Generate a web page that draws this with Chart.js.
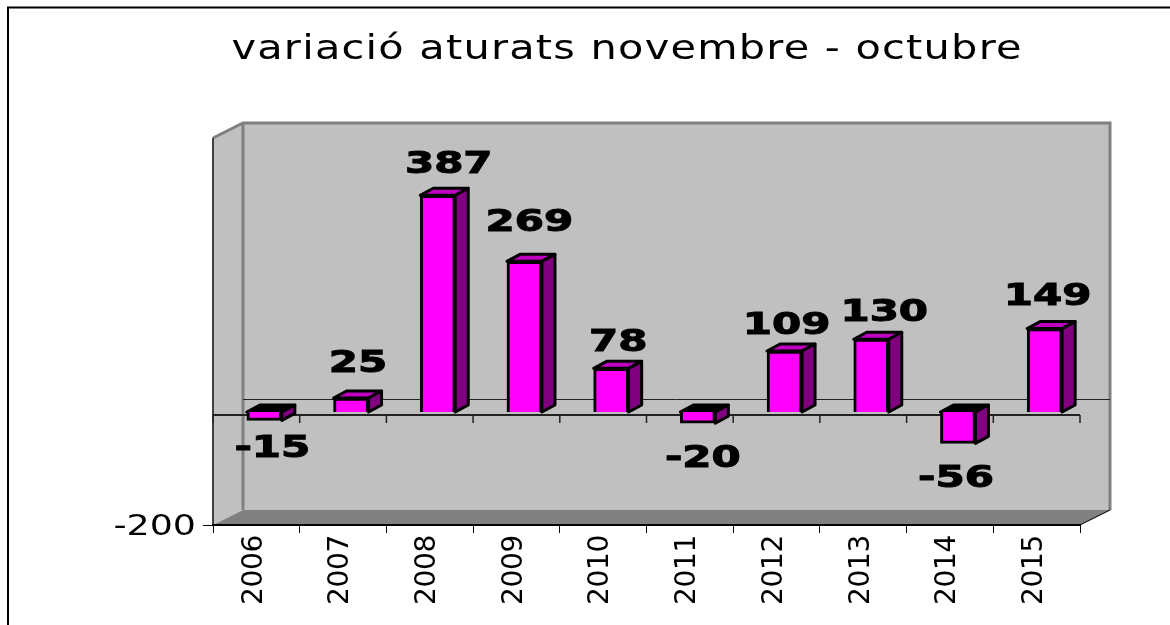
<!DOCTYPE html>
<html><head><meta charset="utf-8">
<style>html,body{margin:0;padding:0;background:#fff}canvas{display:block}</style>
<script src="https://cdn.jsdelivr.net/npm/chart.js@4"></script>
</head><body><canvas id="c" width="1170" height="625"></canvas>
<script>
const years = ['2006','2007','2008','2009','2010','2011','2012','2013','2014','2015'];
const variation = [-15,25,387,269,78,-20,109,130,-56,149];
const yTicks = [-200];
const chartTitle = 'variació aturats novembre - octubre';

const FONT = '"DejaVu Sans"';
const depth = {dx:13, dy:7};
const barShift = {x:8, y:-1};
const wall = {dx:30, dy:15};
// hand-placed label offsets from the bar's front-face centre / end
const labelNudge = [[8,29],[7,-34],[11,-30],[5,-38],[7,-25],[5,36],[2,-25],[13,-26],[-2,36],[3,-31]];

const threeD = {
  id:'threeD',
  afterLayout(chart){
    if(chart._wrapped) return; chart._wrapped = true;
    const ctx = chart.ctx;
    const sx=chart.scales.x,sy=chart.scales.y;
    const ox=sx.drawLabels.bind(sx);
    sx.drawLabels=a=>{ctx.save();ctx.translate(-2,0);ctx.letterSpacing='-0.3px';ox(a);ctx.restore();};
    const oy=sy.drawLabels.bind(sy);
    sy.drawLabels=a=>{ctx.save();ctx.translate(196,3);ctx.scale(1.3,1);ctx.translate(-199,0);oy(a);ctx.restore();};
    const t=chart.titleBlock,od=t.draw.bind(t);
    t.draw=()=>{ctx.save();ctx.translate(682,1);ctx.scale(1.22,1);ctx.translate(-585,0);ctx.letterSpacing='1px';od();ctx.restore();};
  },
  beforeDraw(chart){
    const {ctx,chartArea:a,scales:{x,y}}=chart;
    const L=a.left,R=a.right,B=y.getPixelForValue(-200),T=y.getPixelForValue(500)+5;
    const W=wall.dx,H=wall.dy;
    ctx.save();
    ctx.strokeStyle='#000';ctx.lineWidth=2;
    ctx.beginPath();ctx.moveTo(8,625);ctx.lineTo(8,7.5);ctx.lineTo(1170,7.5);ctx.stroke();
    ctx.fillStyle='#c0c0c0';ctx.fillRect(L+W,T-H,R-L,B-T);
    ctx.beginPath();ctx.moveTo(L,T);ctx.lineTo(L+W,T-H);ctx.lineTo(L+W,B-H);ctx.lineTo(L,B);ctx.closePath();ctx.fill();
    ctx.fillStyle='#808080';
    ctx.beginPath();ctx.moveTo(L,B);ctx.lineTo(L+W,B-H);ctx.lineTo(R+W+1,B-H);ctx.lineTo(R,B);ctx.closePath();ctx.fill();
    ctx.strokeStyle='#808080';ctx.lineWidth=3;
    ctx.beginPath();ctx.moveTo(L,T);ctx.lineTo(L+W,T-H);ctx.lineTo(R+W,T-H);ctx.lineTo(R+W,B-H);ctx.stroke();
    ctx.beginPath();ctx.moveTo(L+W,T-H);ctx.lineTo(L+W,B-H);ctx.stroke();
    ctx.strokeStyle='#404040';ctx.lineWidth=2;
    ctx.beginPath();ctx.moveTo(L,T);ctx.lineTo(L,B);ctx.stroke();
    ctx.strokeStyle='#000';ctx.lineWidth=1;
    ctx.beginPath();ctx.moveTo(R,B);ctx.lineTo(R+W,B-H);ctx.stroke();
    const z=y.getPixelForValue(0);
    ctx.strokeStyle='#222';ctx.lineWidth=1;
    ctx.beginPath();ctx.moveTo(L+W,Math.round(z-14)+.5);ctx.lineTo(R+W,Math.round(z-14)+.5);ctx.stroke();
    ctx.lineWidth=2;
    ctx.beginPath();ctx.moveTo(L,z+2);ctx.lineTo(R,z+2);ctx.stroke();
    const step=(R-L)/years.length;
    ctx.lineWidth=1.5;
    for(let i=0;i<=years.length;i++){
      const px=i<years.length?x.getPixelForValue(i)-step/2:R;
      ctx.beginPath();ctx.moveTo(px,z+2);ctx.lineTo(px,z+10);ctx.stroke();
    }
    ctx.restore();
  },
  beforeDatasetDraw(chart){
    const {ctx}=chart;
    const meta=chart.getDatasetMeta(0);
    ctx.save();
    ctx.translate(barShift.x,barShift.y);
    ctx.lineWidth=3;ctx.strokeStyle='#000';ctx.lineJoin='round';
    meta.data.forEach((bar,i)=>{
      const v=variation[i];
      const l=bar.x-bar.width/2,r=bar.x+bar.width/2;
      const top=Math.min(bar.y,bar.base),bot=Math.max(bar.y,bar.base);
      ctx.fillStyle=v<0?'#000':'#c000c0';
      ctx.beginPath();ctx.moveTo(l,top);ctx.lineTo(l+depth.dx,top-depth.dy);ctx.lineTo(r+depth.dx,top-depth.dy);ctx.lineTo(r,top);ctx.closePath();ctx.fill();ctx.stroke();
      ctx.fillStyle='#800080';
      ctx.beginPath();ctx.moveTo(r,top);ctx.lineTo(r+depth.dx,top-depth.dy);ctx.lineTo(r+depth.dx,bot-depth.dy);ctx.lineTo(r,bot);ctx.closePath();ctx.fill();ctx.stroke();
    });
  },
  afterDatasetDraw(chart){
    const {ctx}=chart;
    ctx.restore();
    const meta=chart.getDatasetMeta(0);
    ctx.save();
    ctx.fillStyle='#000';ctx.strokeStyle='#000';ctx.lineWidth=1;
    ctx.font='bold 30px '+FONT;
    ctx.textAlign='center';ctx.textBaseline='middle';
    meta.data.forEach((bar,i)=>{
      const v=variation[i];
      const cx=bar.x+barShift.x+labelNudge[i][0];
      const cy=bar.y+barShift.y+labelNudge[i][1];
      ctx.save();
      ctx.translate(cx,cy);ctx.scale(1.4,1);
      ctx.fillText(String(v),0,0);
      ctx.strokeText(String(v),0,0);
      ctx.restore();
    });
    ctx.restore();
  }
};

new Chart(document.getElementById('c'),{
  type:'bar',
  data:{labels:years,datasets:[{data:variation,backgroundColor:'#ff00ff',borderColor:'#000',borderWidth:3,barThickness:35}]},
  plugins:[threeD],
  options:{
    responsive:false,animation:false,
    layout:{padding:{left:0,right:90,top:29,bottom:0}},
    plugins:{
      legend:{display:false},tooltip:{enabled:false},
      title:{display:true,text:chartTitle,color:'#000',font:{family:FONT,size:34,weight:'normal'},padding:{top:0,bottom:63.2}}
    },
    scales:{
      x:{
        grid:{drawOnChartArea:false,color:'#000',tickLength:8,lineWidth:1},
        border:{display:true,color:'#000',width:2},
        ticks:{color:'#000',font:{family:FONT,size:28},minRotation:90,maxRotation:90,padding:2,autoSkip:false},
        afterFit(s){s.height=100;}
      },
      y:{
        min:-200,max:500,
        grid:{drawOnChartArea:false,color:'#000',tickLength:10,lineWidth:1},
        border:{display:false},
        ticks:{color:'#000',font:{family:FONT,size:28},padding:4},
        afterBuildTicks(s){s.ticks=yTicks.map(value=>({value}));},
        afterFit(s){s.width=213;}
      }
    }
  }
});
</script></body></html>
